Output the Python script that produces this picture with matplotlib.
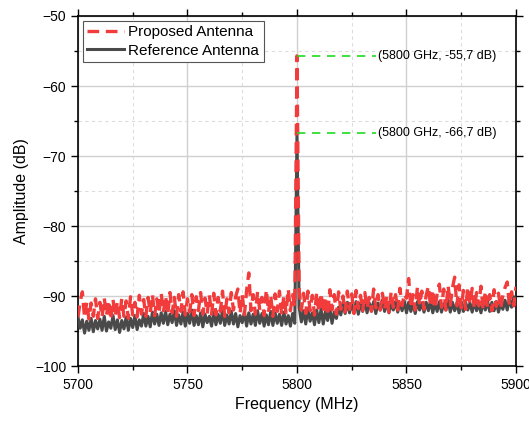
import numpy as np
import matplotlib
matplotlib.use("Agg")
import matplotlib.pyplot as plt
from matplotlib.ticker import MultipleLocator

plt.rcParams['font.family'] = ['Liberation Sans', 'DejaVu Sans']

# Spectrum analyser readings, 1 MHz steps from 5700 to 5900 MHz
freq = np.arange(5700, 5901, 1)

reference_db = [
    -93.0, -94.6, -93.4, -95.3, -93.6, -94.9, -93.2, -95.1, -93.5, -94.7,
    -93.3, -94.9, -92.9, -95.0, -93.7, -94.6, -92.8, -94.8, -93.4, -95.2,
    -93.5, -94.7, -93.0, -94.9, -93.2, -94.5, -92.8, -94.8, -93.4, -94.3,
    -92.5, -94.3, -92.9, -94.4, -92.3, -94.0, -92.6, -94.2, -92.4, -93.9,
    -92.2, -94.1, -92.6, -93.8, -92.1, -94.2, -92.7, -94.0, -92.3, -94.3,
    -92.5, -93.9, -92.0, -94.2, -92.8, -94.1, -92.4, -94.4, -92.6, -93.8,
    -92.9, -94.3, -92.3, -94.1, -92.6, -93.9, -92.1, -94.2, -92.7, -94.0,
    -92.2, -94.0, -92.5, -94.4, -92.8, -93.8, -92.3, -94.3, -92.4, -94.0,
    -92.6, -94.2, -92.1, -93.9, -92.5, -94.3, -92.7, -94.1, -92.2, -94.2,
    -92.4, -93.9, -92.6, -94.2, -92.3, -94.0, -92.8, -94.3, -92.5, -93.9,
    -66.7,
    -91.6, -93.7, -92.1, -94.0, -91.8, -93.6, -92.4, -94.1, -92.0,
    -93.8, -91.9, -94.0, -92.2, -93.5, -91.7, -93.9, -92.3, -93.2, -91.6,
    -92.7, -91.0, -92.5, -90.9, -92.4, -91.1, -92.3, -90.8, -92.6, -91.0,
    -92.2, -90.7, -92.4, -91.0, -92.1, -90.8, -92.5, -91.0, -92.0, -90.6,
    -92.2, -90.9, -92.4, -91.1, -92.0, -90.8, -92.3, -91.0, -92.1, -90.7,
    -92.4, -90.9, -92.2, -91.1, -92.5, -90.8, -92.0, -91.0, -92.3, -90.9,
    -92.1, -90.7, -92.4, -91.0, -92.2, -90.8, -92.3, -91.1, -92.0, -90.6,
    -92.3, -90.9, -92.1, -91.0, -92.4, -90.8, -92.2, -90.9, -92.0, -91.0,
    -92.3, -90.8, -92.1, -91.1, -92.4, -90.9, -92.0, -90.7, -92.2, -90.9,
    -92.1, -90.8, -92.3, -91.0, -91.9, -90.6, -92.0, -90.4, -91.6, -90.1,
    -90.5,
]

proposed_db = [
    -93.0, -90.8, -89.4, -93.1, -90.9, -93.3, -91.0, -92.9, -90.4, -93.2,
    -90.9, -93.0, -90.3, -92.8, -90.6, -93.4, -90.5, -92.9, -90.8, -93.1,
    -90.4, -92.9, -90.7, -93.2, -90.1, -92.7, -90.9, -93.0, -89.9, -92.6,
    -90.5, -92.9, -90.2, -92.4, -89.8, -92.8, -90.4, -92.5, -89.6, -92.3,
    -90.0, -92.6, -89.5, -92.4, -90.2, -92.9, -89.8, -92.2, -89.4, -92.7,
    -90.4, -92.3, -89.8, -92.8, -90.1, -92.1, -89.5, -92.6, -90.3, -92.5,
    -89.9, -92.6, -89.6, -92.7, -90.2, -92.2, -89.3, -92.9, -90.4, -92.4,
    -89.5, -92.0, -90.1, -89.0, -92.5, -89.8, -92.7, -89.2, -86.7, -92.1,
    -89.8, -92.6, -89.4, -92.0, -90.2, -92.8, -89.1, -92.3, -89.9, -92.9,
    -89.7, -92.2, -89.3, -92.7, -90.0, -92.4, -89.0, -92.1, -89.8, -91.5,
    -55.7,
    -89.2, -92.0, -89.6, -92.5, -89.3, -92.1, -89.9, -92.7, -89.5,
    -92.3, -89.6, -92.4, -90.1, -92.8, -89.1, -92.0, -89.8, -92.6, -89.4,
    -91.9, -90.0, -92.3, -89.3, -91.9, -89.7, -92.5, -89.2, -91.8, -89.9,
    -92.1, -89.5, -91.8, -90.2, -92.2, -89.0, -91.7, -89.8, -92.0, -89.6,
    -91.9, -90.0, -92.3, -89.4, -91.6, -89.8, -92.0, -88.9, -91.4, -89.7,
    -90.3, -87.5, -91.7, -89.8, -92.0, -88.7, -91.3, -89.3, -91.9, -89.9,
    -88.6, -91.5, -89.1, -91.8, -89.7, -88.3, -91.6, -89.0, -92.0, -88.5,
    -91.3, -88.8, -87.3, -91.4, -88.4, -91.7, -89.2, -91.9, -88.7, -91.2,
    -88.9, -91.8, -89.5, -91.4, -88.6, -92.0, -89.3, -91.6, -89.8, -92.1,
    -89.1, -91.5, -89.6, -91.8, -89.9, -88.8, -88.0, -91.3, -89.4, -91.4,
    -88.7,
]

reference_db = np.array(reference_db)
proposed_db = np.array(proposed_db)

fig = plt.figure(figsize=(5.29, 4.21), dpi=100)
ax = fig.add_axes([0.1474, 0.1306, 0.828, 0.8314])

ax.plot(freq, reference_db, color='#4a4a4a', lw=2.2, label='Reference Antenna', zorder=3)
ax.plot(freq, proposed_db, color='#f23c3c', lw=2.4, dashes=(3.5, 2),
        label='Proposed Antenna', zorder=4)

# mark the peak of each trace
for y in (proposed_db, reference_db):
    i = np.argmax(y)
    ax.plot([freq[i], 5836], [y[i], y[i]], color='#1fdc1f', lw=1.2,
            dashes=(5, 4), zorder=5)
    ax.text(5836.8, y[i], f"({freq[i]} GHz, {y[i]:.1f} dB)".replace('.', ','),
            fontsize=9, va='center', ha='left', zorder=6)

ax.set_xlim(5700, 5900)
ax.set_ylim(-100, -50)
ax.xaxis.set_major_locator(MultipleLocator(50))
ax.xaxis.set_minor_locator(MultipleLocator(25))
ax.yaxis.set_major_locator(MultipleLocator(10))
ax.yaxis.set_minor_locator(MultipleLocator(5))

ax.grid(which='major', color='#d0d0d0', lw=1.0, zorder=0)
ax.grid(which='minor', color='#dcdcdc', lw=0.8, ls=(0, (3, 3)), zorder=0)

ax.tick_params(which='both', direction='out', labelsize=10, width=1)
ax.tick_params(which='major', length=5)
ax.tick_params(which='minor', length=3)
ax.tick_params(which='both', top=True, right=True)
for s in ax.spines.values():
    s.set_linewidth(1.2)

ax.set_xlabel('Frequency (MHz)', fontsize=11.5)
ax.set_ylabel('Amplitude (dB)', fontsize=11.5)

handles, labels = ax.get_legend_handles_labels()
leg = ax.legend(handles[::-1], labels[::-1], loc='upper left', fontsize=11,
                fancybox=False, edgecolor='#555555', framealpha=1,
                borderaxespad=0.3, handlelength=2.4, handletextpad=0.3,
                borderpad=0.3, labelspacing=0.3)
leg.get_frame().set_linewidth(0.8)

fig.savefig('out.png', dpi=100)
